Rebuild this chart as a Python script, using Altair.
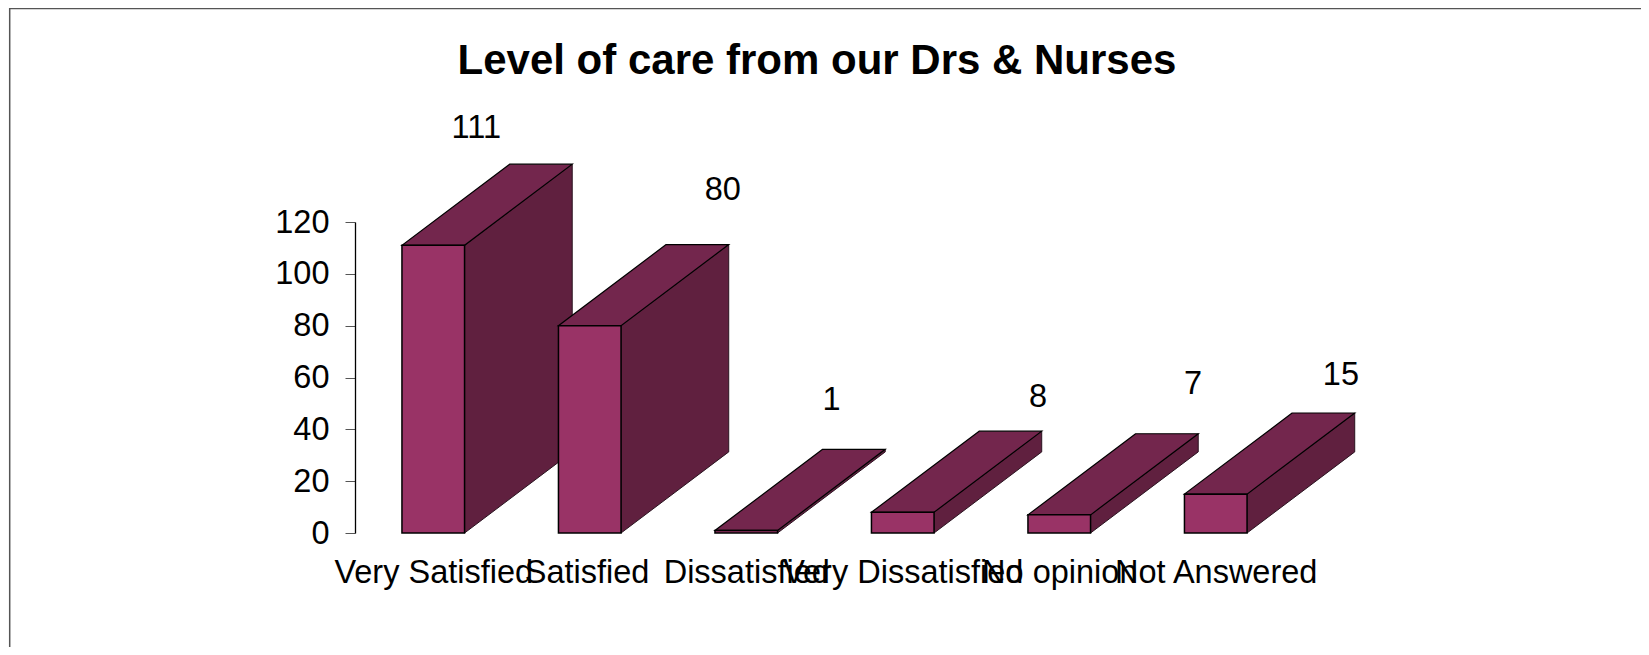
import altair as alt
import pandas as pd

categories = ["Very Satisfied", "Satisfied", "Dissatisfied", "Very Dissatisfied", "No opinion", "Not Answered"]
values = [111, 80, 1, 8, 7, 15]

# Label placement relative to the bar's category centre (category units) and top (value units)
label_nudge_x = [0.275, 0.85, 0.545, 0.865, 0.855, 0.80]
label_nudge_y = [45.1, 52.5, 50.2, 44.4, 50.4, 46.1]
# Position of the category labels on the x scale
label_ticks = [0.5, 1.48, 2.5, 3.5, 4.5, 5.5]

FONT = "Liberation Sans"
BAR_W = 0.4       # bar width in category units
DEPTH_X = 0.688   # 3-D depth, category units
DEPTH_Y = 31.3    # 3-D depth, value units
LEFT, TOP, PW, PH = 347, 214, 939, 311
TOTAL_W, TOTAL_H = 1633, 639

front, top, side, labels = [], [], [], []
for i, (c, v) in enumerate(zip(categories, values)):
    l = i + 0.5 - BAR_W / 2
    r = l + BAR_W
    front.append({"l": l, "r": r, "v": v})
    top += [{"b": c, "y": v, "x": l, "x2": r},
            {"b": c, "y": v + DEPTH_Y, "x": l + DEPTH_X, "x2": r + DEPTH_X}]
    side += [{"b": c, "x": r, "y": v, "y2": 0},
             {"b": c, "x": r + DEPTH_X, "y": v + DEPTH_Y, "y2": DEPTH_Y}]
    labels.append({"x": i + 0.5 + label_nudge_x[i], "y": v + label_nudge_y[i], "t": str(v)})

xs = alt.Scale(domain=[0, 6], nice=False, zero=False)
ys = alt.Scale(domain=[0, 120], nice=False)
label_expr = "[" + ",".join(f"'{c}'" for c in categories) + "][floor(datum.value)]"

x_axis = alt.Axis(values=label_ticks, labelExpr=label_expr, domain=False, ticks=False,
                  grid=False, title=None, labelFont=FONT, labelFontSize=32.5, labelColor="black",
                  labelOverlap=False, labelBound=False, labelFlush=False, labelPadding=23, labelLimit=500)
y_axis = alt.Axis(values=[0, 20, 40, 60, 80, 100, 120], grid=False, title=None, tickSize=10, tickColor="#555555",
                  domainColor="black", domainWidth=1.3, labelFont=FONT, labelFontSize=32.5, labelColor="black",
                  labelPadding=16, labelOverlap=False, labelBound=False, labelFlush=False)

side_l = alt.Chart(pd.DataFrame(side)).mark_area(color="#60203F", stroke="#2a1420", strokeWidth=1, clip=False).encode(
    x=alt.X("x:Q", scale=xs, axis=x_axis),
    y=alt.Y("y:Q", scale=ys, axis=y_axis),
    y2="y2:Q",
    detail="b:N",
)
top_l = alt.Chart(pd.DataFrame(top)).mark_area(color="#73264D", stroke="black", strokeWidth=1.2, orient="horizontal").encode(
    y=alt.Y("y:Q", scale=ys),
    x=alt.X("x:Q", scale=xs),
    x2="x2:Q",
    detail="b:N",
)
front_l = alt.Chart(pd.DataFrame(front)).mark_rect(color="#993366", stroke="black", strokeWidth=1.5).encode(
    x=alt.X("l:Q", scale=xs),
    x2="r:Q",
    y=alt.Y("v:Q", scale=ys),
    y2=alt.datum(0),
)
text_l = alt.Chart(pd.DataFrame(labels)).mark_text(font=FONT, fontSize=32.5, color="black").encode(
    x=alt.X("x:Q", scale=xs),
    y=alt.Y("y:Q", scale=ys),
    text="t:N",
)
frame_left = alt.Chart(pd.DataFrame({"a": [0]})).mark_rule(color="#555555", strokeWidth=1.5).encode(
    x=alt.value(1.7 - LEFT), y=alt.value(-TOP), y2=alt.value(TOTAL_H - TOP))
frame_top = alt.Chart(pd.DataFrame({"a": [0]})).mark_rule(color="#555555", strokeWidth=1.5).encode(
    y=alt.value(0.5 - TOP), x=alt.value(1 - LEFT), x2=alt.value(TOTAL_W - LEFT))

chart = alt.layer(frame_left, frame_top, side_l, top_l, front_l, text_l).properties(
    width=PW, height=PH,
    title=alt.TitleParams("Level of care from our Drs & Nurses", font=FONT, fontSize=42, fontWeight="bold",
                          color="black", anchor="middle", dx=-7.5, offset=-76),
    padding={"left": LEFT, "top": TOP, "right": TOTAL_W - LEFT - PW, "bottom": TOTAL_H - TOP - PH},
    autosize=alt.AutoSizeParams(type="none"),
).configure_view(stroke=None)

chart.save("out.html", embed_options={"renderer": "svg", "actions": False})
